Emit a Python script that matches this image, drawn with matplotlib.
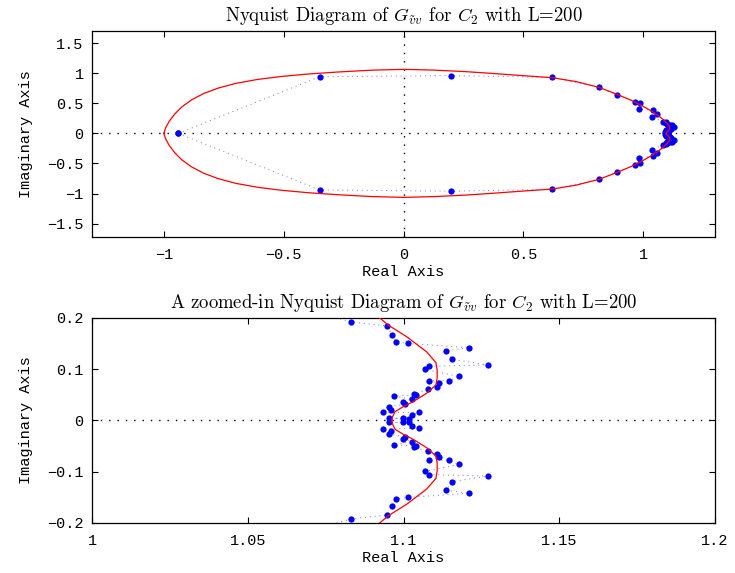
import numpy as np
import matplotlib
matplotlib.use("Agg")
import matplotlib.pyplot as plt

plt.rcParams['mathtext.fontset'] = 'cm'

# ---- data (upper half, positive frequencies; lower half is the conjugate) ----
red_x = [-1.0, -0.993, -0.978, -0.955, -0.925, -0.885, -0.835, -0.775, -0.70, -0.61,
         -0.51, -0.40, -0.27, -0.13, 0.0, 0.13, 0.26, 0.39, 0.51, 0.62,
         0.72, 0.815, 0.893, 0.95, 0.995, 1.035, 1.065, 1.085, 1.0925, 1.0951,
         1.1010, 1.1074, 1.1104, 1.1108, 1.1108, 1.1104, 1.1074, 1.1031, 1.0999,
         1.0973, 1.0965, 1.0962]
red_y = [0.0, 0.09, 0.20, 0.32, 0.44, 0.555, 0.66, 0.75, 0.83, 0.895,
         0.945, 0.985, 1.02, 1.05, 1.063, 1.05, 1.025, 0.99, 0.955, 0.925,
         0.86, 0.765, 0.645, 0.55, 0.46, 0.37, 0.29, 0.225, 0.1994, 0.186,
         0.1635, 0.134, 0.113, 0.0985, 0.0823, 0.0693, 0.053, 0.0367, 0.0269,
         0.0172, 0.0074, 0.0]

blue_start = (-0.94, 0.0)
blue_x = [-0.35, 0.20, 0.62, 0.815, 0.893, 0.966, 0.988, 0.982, 1.043, 1.058, 1.036,
          1.0832, 1.0948, 1.0962, 1.0976, 1.1013, 1.1211, 1.1137, 1.1156, 1.1272,
          1.1082, 1.1069, 1.1179, 1.1146, 1.1082, 1.1114, 1.1106, 1.1078, 1.1034,
          1.1041, 1.0970, 1.1026, 1.0999, 1.1005, 1.0954, 1.0960, 1.0933, 1.1050,
          1.1026, 1.0999, 1.0954, 1.1019]
blue_y = [0.94, 0.96, 0.93, 0.764, 0.643, 0.527, 0.498, 0.404, 0.382, 0.327, 0.271,
          0.1922, 0.1844, 0.1674, 0.1532, 0.1502, 0.1420, 0.1362, 0.1194, 0.1083,
          0.1058, 0.0995, 0.0859, 0.0777, 0.0777, 0.0722, 0.0654, 0.0605, 0.0517,
          0.0492, 0.0478, 0.0414, 0.0361, 0.0316, 0.0269, 0.0211, 0.0160, 0.0156,
          0.0107, 0.0039, 0.0039, 0.0033]

top_xticks = [-1, -0.5, 0, 0.5, 1]
top_xlabels = ['\u22121', '\u22120.5', '0', '0.5', '1']
top_yticks = [-1.5, -1, -0.5, 0, 0.5, 1, 1.5]
top_ylabels = ['\u22121.5', '\u22121', '\u22120.5', '0', '0.5', '1', '1.5']
bot_xticks = [1, 1.05, 1.1, 1.15, 1.2]
bot_xlabels = ['1', '1.05', '1.1', '1.15', '1.2']
bot_yticks = [-0.2, -0.1, 0, 0.1, 0.2]
bot_ylabels = ['\u22120.2', '\u22120.1', '0', '0.1', '0.2']

title_top = r'Nyquist Diagram of $G_{\tilde{v}v}$ for $C_2$ with L=200'
title_bot = r'A zoomed-in Nyquist Diagram of $G_{\tilde{v}v}$ for $C_2$ with L=200'

# full closed curves
rx = np.array(red_x); ry = np.array(red_y)
RX = np.concatenate([rx, rx[::-1]])
RY = np.concatenate([ry, -ry[::-1]])
bx = np.array(blue_x); by = np.array(blue_y)
BX = np.concatenate([[blue_start[0]], bx, bx[::-1], [blue_start[0]]])
BY = np.concatenate([[blue_start[1]], by, -by[::-1], [blue_start[1]]])

mono = 'Liberation Mono'
fs = 11

fig = plt.figure(figsize=(7.35, 5.73), dpi=100)
ax1 = fig.add_axes([0.1252, 0.5865, 0.8476, 0.3594])
ax2 = fig.add_axes([0.1252, 0.0873, 0.8476, 0.3578])


def draw(ax, xlim, ylim, xt, xl, yt, yl, title, vline):
    ax.plot(BX, BY, color=(0.45, 0.45, 1.0), linestyle=(0, (1, 4)), linewidth=0.7, zorder=2)
    ax.plot(BX, BY, linestyle='none', marker='o', markersize=4.5,
            markerfacecolor='#0000ff', markeredgecolor='none', zorder=3)
    ax.plot(RX, RY, color='red', linewidth=0.9, zorder=4)
    ax.axhline(0, color='black', linestyle=(0, (1, 5)), linewidth=1.0, zorder=1)
    if vline:
        ax.axvline(0, color='black', linestyle=(0, (1, 5)), linewidth=1.0, zorder=1)
    ax.set_xlim(*xlim)
    ax.set_ylim(*ylim)
    ax.set_xticks(xt)
    ax.set_xticklabels(xl, fontfamily=mono, fontsize=fs)
    ax.set_yticks(yt)
    ax.set_yticklabels(yl, fontfamily=mono, fontsize=fs)
    ax.tick_params(direction='in', top=True, right=True, length=4, width=0.8)
    ax.tick_params(axis='x', pad=8)
    ax.tick_params(axis='y', pad=6)
    for s in ax.spines.values():
        s.set_linewidth(0.9)
    ax.set_xlabel('Real Axis', fontfamily=mono, fontsize=fs, labelpad=2)
    ax.set_ylabel('Imaginary Axis', fontfamily=mono, fontsize=fs, labelpad=10)
    ax.set_title(title, fontfamily='cmr10', fontsize=13.5, pad=7)


draw(ax1, (-1.3, 1.3), (-1.72, 1.7), top_xticks, top_xlabels, top_yticks, top_ylabels,
     title_top, True)
draw(ax2, (1.0, 1.2), (-0.2, 0.2), bot_xticks, bot_xlabels, bot_yticks, bot_ylabels,
     title_bot, False)

fig.savefig('out.png', dpi=100)
